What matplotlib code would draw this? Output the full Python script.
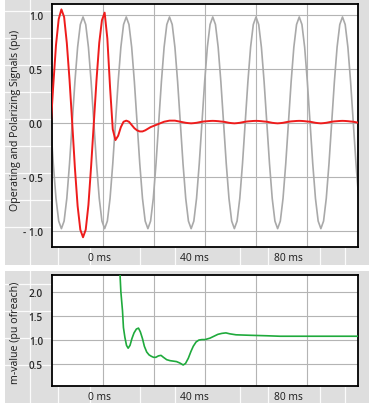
"""
plot.py

Operating / polarizing signals and m-value trace (two stacked panels).
Saves out.png (369x410 px).
"""

import matplotlib

matplotlib.use("Agg")
import matplotlib.pyplot as plt
import numpy as np
from matplotlib.lines import Line2D
from matplotlib.patches import Rectangle

# --- data -------------------------------------------------------------------
# sampled signals: 16 samples per cycle, first sample at T0 ms, step DT ms
T0 = -21.0
DT = 1.15

polarizing = [
    0.0, -0.38, -0.70, -0.91, -0.98, -0.91, -0.70, -0.38, 0.0, 0.38, 0.70, 0.91, 0.98, 0.91, 0.70, 0.38,
    0.0, -0.38, -0.70, -0.91, -0.98, -0.91, -0.70, -0.38, 0.0, 0.38, 0.70, 0.91, 0.98, 0.91, 0.70, 0.38,
    0.0, -0.38, -0.70, -0.91, -0.98, -0.91, -0.70, -0.38, 0.0, 0.38, 0.70, 0.91, 0.98, 0.91, 0.70, 0.38,
    0.0, -0.38, -0.70, -0.91, -0.98, -0.91, -0.70, -0.38, 0.0, 0.38, 0.70, 0.91, 0.98, 0.91, 0.70, 0.38,
    0.0, -0.38, -0.70, -0.91, -0.98, -0.91, -0.70, -0.38, 0.0, 0.38, 0.70, 0.91, 0.98, 0.91, 0.70, 0.38,
    0.0, -0.38, -0.70, -0.91, -0.98, -0.91, -0.70, -0.38, 0.0, 0.38, 0.70, 0.91, 0.98, 0.91, 0.70, 0.38,
    0.0, -0.38, -0.70, -0.91, -0.98, -0.91, -0.70, -0.38, 0.0, 0.38, 0.70, 0.91, 0.98, 0.91, 0.70, 0.38,
    0.0, -0.38, -0.70,
]

operating = [
    -0.05, 0.35, 0.72, 0.96, 1.05, 0.98, 0.74, 0.40, 0.0, -0.42, -0.77, -0.99, -1.06, -0.99, -0.76, -0.40,
    0.0, 0.40, 0.74, 0.95, 1.02, 0.78, 0.33, -0.06, -0.16, -0.12, -0.04, 0.01, 0.02, 0.01, -0.02, -0.05,
    -0.07, -0.08, -0.08, -0.07, -0.055, -0.04, -0.03, -0.02, -0.01, 0.0, 0.01, 0.015, 0.02, 0.02, 0.02, 0.015,
    0.01, 0.005, 0.0, -0.003, -0.005, -0.003, 0.0, 0.005, 0.01, 0.013, 0.015, 0.017, 0.018, 0.017, 0.015, 0.012,
    0.01, 0.005, 0.0, -0.003, -0.005, -0.003, 0.0, 0.005, 0.01, 0.013, 0.015, 0.017, 0.018, 0.017, 0.015, 0.012,
    0.01, 0.005, 0.0, -0.003, -0.005, -0.003, 0.0, 0.005, 0.01, 0.013, 0.015, 0.017, 0.018, 0.017, 0.015, 0.012,
    0.01, 0.005, 0.0, -0.003, -0.005, -0.003, 0.0, 0.005, 0.01, 0.013, 0.015, 0.017, 0.018, 0.017, 0.015, 0.012,
    0.01, 0.005, 0.0,
]

m_time = [
    8.5, 8.9, 9.6, 10.0, 10.6, 11.3, 12.0, 12.8, 13.6, 14.5, 15.5, 16.4, 17.2, 18.1, 18.9, 19.9,
    20.9, 21.9, 22.8, 23.8, 24.9, 26.0, 27.0, 28.4, 29.8, 31.2, 32.6, 34.0, 35.4, 36.4, 37.6, 38.7,
    39.7, 40.9, 42.1, 43.4, 44.7, 46.8, 48.5, 50.2, 51.9, 53.6, 55.3, 57.9, 63.8, 70.9, 76.6, 85.1,
    97.9, 110.5,
]
m_value = [
    2.40, 2.00, 1.60, 1.25, 1.05, 0.88, 0.82, 0.88, 1.02, 1.14, 1.22, 1.24, 1.16, 1.02, 0.86, 0.74,
    0.68, 0.65, 0.63, 0.63, 0.66, 0.67, 0.63, 0.58, 0.56, 0.55, 0.54, 0.51, 0.47, 0.50, 0.61, 0.75,
    0.86, 0.95, 0.99, 1.00, 1.00, 1.03, 1.07, 1.11, 1.13, 1.14, 1.12, 1.10, 1.09, 1.08, 1.07, 1.07,
    1.07, 1.07,
]

x_ticks = [0, 40, 80]
x_labels = ["0 ms", "40 ms", "80 ms"]
top_yticks = [-1.0, -0.5, 0.0, 0.5, 1.0]
top_ylabels = ["- 1.0", "- 0.5", "0.0", "0.5", "1.0"]
bot_yticks = [0.5, 1.0, 1.5, 2.0]
bot_ylabels = ["0.5", "1.0", "1.5", "2.0"]

XLIM = (-20.4, 109.8)
FONT = "Open Sans"
GREY_BG = "#dedede"
GRID = "#b4b4b4"


def px_rect(fig, x0, y0, x1, y1, color):
    # rectangle given in pixel coords (origin top-left)
    W, H = 369.0, 410.0
    fig.patches.append(Rectangle((x0 / W, 1 - y1 / H), (x1 - x0) / W, (y1 - y0) / H,
                                 transform=fig.transFigure, facecolor=color,
                                 edgecolor="none", zorder=-10))


def px_line(fig, xs, ys):
    W, H = 369.0, 410.0
    fig.lines.append(Line2D([x / W for x in xs], [1 - y / H for y in ys],
                            transform=fig.transFigure, color="white", lw=0.9,
                            alpha=0.9, zorder=-9))


def style_axes(ax, yticks, ylabels, ylim):
    ax.set_xlim(*XLIM)
    ax.set_ylim(*ylim)
    ax.set_facecolor("white")
    ax.set_xticks(x_ticks)
    ax.set_xticklabels(x_labels, fontsize=7.4, family=FONT, color="#1a1a1a")
    ax.set_xticks(np.linspace(XLIM[0], XLIM[1], 7)[1:-1], minor=True)
    ax.set_yticks(yticks)
    ax.set_yticklabels(ylabels, fontsize=7.2, family=FONT, fontweight="semibold",
                       color="#2a2a2a")
    ax.tick_params(axis="both", which="both", length=0)
    ax.tick_params(axis="x", pad=3.5)
    ax.tick_params(axis="y", pad=6.5)
    ax.grid(False)
    ax.grid(True, axis="x", which="minor", color=GRID, lw=0.8)
    ax.grid(True, axis="y", which="major", color=GRID, lw=0.8)
    ax.set_axisbelow(True)
    for sp in ax.spines.values():
        sp.set_color("black")
        sp.set_linewidth(1.3)


def main() -> None:
    fig = plt.figure(figsize=(3.69, 4.10), dpi=100)
    fig.patch.set_facecolor("white")

    # grey table-like backdrop behind each panel
    px_rect(fig, 5, 0, 369, 266, GREY_BG)
    px_rect(fig, 5, 272, 369, 404, GREY_BG)
    for y in np.arange(12, 250, 27):
        px_line(fig, [5, 52], [y, y])
    for y in np.arange(285, 390, 27):
        px_line(fig, [5, 52], [y, y])
    px_line(fig, [30, 30], [0, 266])
    px_line(fig, [30, 30], [272, 404])
    for x in [58, 90, 140, 175, 240, 268, 320, 345]:
        px_line(fig, [x, x], [249, 266])
        px_line(fig, [x, x], [388, 404])

    ax1 = fig.add_axes([52 / 369, 1 - 248 / 410, 306 / 369, 243 / 410])
    ax2 = fig.add_axes([52 / 369, 1 - 387 / 410, 306 / 369, 111 / 410])

    t_pol = T0 + DT * np.arange(len(polarizing))
    t_op = T0 + DT * np.arange(len(operating))

    ax1.plot(t_pol, polarizing, color="#a9a9a9", lw=1.2, zorder=2)
    ax1.plot(t_op, operating, color="#ee1c1c", lw=1.4, zorder=3)
    style_axes(ax1, top_yticks, top_ylabels, (-1.15, 1.10))
    ax1.set_ylabel("Operating and Polarizing Signals (pu)", fontsize=7.7, family=FONT,
                   color="#1a1a1a")
    ax1.yaxis.set_label_coords(-0.10, 0.527)

    ax2.plot(m_time, m_value, color="#1faa3c", lw=1.2, zorder=3)
    style_axes(ax2, bot_yticks, bot_ylabels, (0.03, 2.35))
    ax2.set_ylabel("m-value (pu ofreach)", fontsize=7.7, family=FONT, color="#1a1a1a")
    ax2.yaxis.set_label_coords(-0.10, 0.49)

    fig.savefig("out.png", dpi=100, facecolor=fig.get_facecolor())
    plt.close(fig)


if __name__ == "__main__":
    main()
